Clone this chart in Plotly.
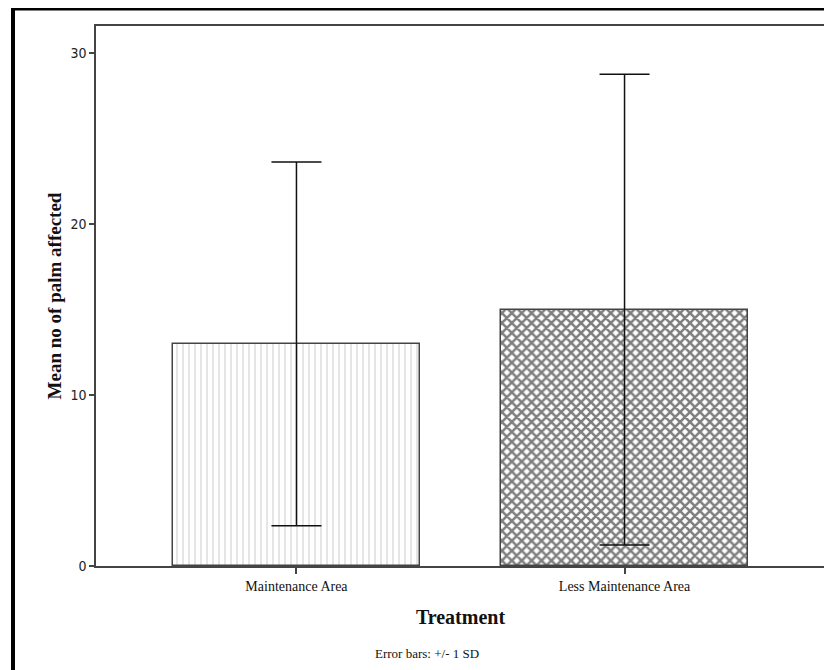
import plotly.graph_objects as go

categories = ["Maintenance Area", "Less Maintenance Area"]
means = [13.0, 15.0]
sds = [10.64, 13.77]
y_ticks = [0, 10, 20, 30]

SERIF = "Liberation Serif, Times New Roman, serif"
SANS = "Liberation Sans Narrow, DejaVu Sans Condensed, Arial Narrow, sans-serif"

# page body adds an 8px offset; plot area on screen: x 96..825, y 26..566
OFF = 8

fig = go.Figure()
fig.add_trace(go.Bar(
    x=[0, 1],
    y=means,
    width=0.753,
    marker=dict(
        color="white",
        line=dict(color="#444444", width=1.5),
        pattern=dict(
            shape=["|", "x"],
            size=[6, 7],
            solidity=[0.17, 0.6],
            fgcolor=["#999999", "#000000"],
            bgcolor="white",
            fillmode="overlay",
        ),
    ),
    error_y=dict(type="data", array=sds, visible=True,
                 color="#111111", thickness=1.5, width=25),
    showlegend=False,
    hoverinfo="skip",
))

fig.update_layout(
    width=832, height=670,
    margin=dict(l=96 - OFF, r=832 - (825 - OFF), t=26 - OFF, b=670 - (566 - OFF)),
    paper_bgcolor="white",
    plot_bgcolor="white",
    bargap=0,
    xaxis=dict(
        range=[-0.611, 1.611],
        tickmode="array", tickvals=[0, 1], ticktext=categories,
        ticks="outside", ticklen=6, tickcolor="#444444", tickwidth=1.5,
        showline=True, linecolor="#444444", linewidth=1.5, mirror=True,
        showgrid=False, zeroline=False,
        tickfont=dict(family=SERIF, size=14, color="#111111"),
        title=dict(text="<b>Treatment</b>", standoff=17,
                   font=dict(family=SERIF, size=20, color="#111111")),
    ),
    yaxis=dict(
        range=[0, 31.6],
        tickmode="array", tickvals=y_ticks,
        ticks="outside", ticklen=5, tickcolor="#444444", tickwidth=1.5,
        showline=True, linecolor="#444444", linewidth=1.5, mirror=True,
        showgrid=False, zeroline=False,
        tickfont=dict(family=SANS, size=14, color="#222222"),
        title=dict(text="<b>Mean no of palm affected</b>", standoff=4,
                   font=dict(family=SERIF, size=19, color="#111111")),
    ),
    font=dict(family=SERIF),
)

fig.add_annotation(
    text="Error bars: +/- 1 SD",
    xref="paper", yref="paper",
    x=(427 - 96) / 729, y=(566 - 653) / 540,
    showarrow=False, xanchor="center", yanchor="middle",
    font=dict(family=SERIF, size=13, color="#111111"),
)

fig.add_shape(
    type="rect", xref="paper", yref="paper",
    x0=(13 - 96) / 729, x1=(845 - 96) / 729,
    y0=(566 - 690) / 540, y1=(566 - 8.5) / 540,
    line=dict(color="black", width=4),
    fillcolor="rgba(0,0,0,0)",
    layer="above",
)

fig.write_html("out.html")
